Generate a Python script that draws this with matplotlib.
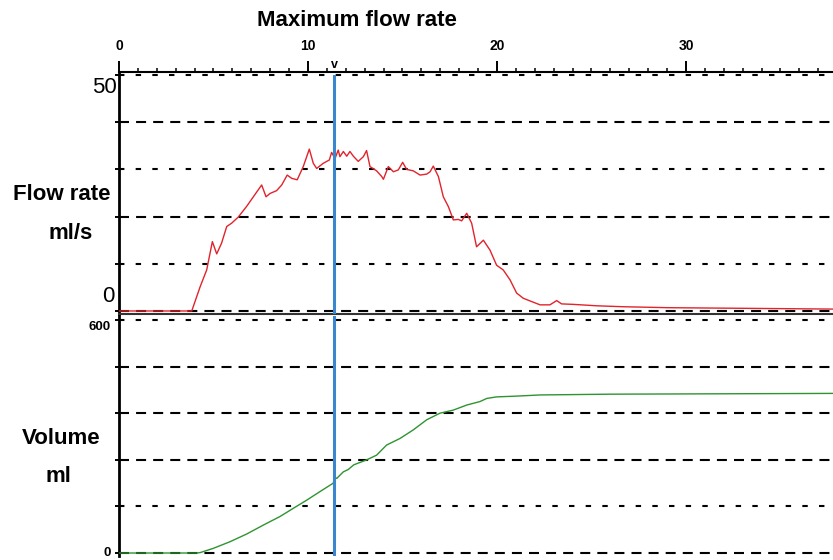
"""Uroflowmetry trace: flow rate and voided volume."""
import matplotlib.pyplot as plt
from matplotlib import ticker
import matplotlib.transforms as mtransforms

plt.rcParams['font.family'] = ['Liberation Sans', 'DejaVu Sans']

# Flow rate curve (ml/s) against time (s)
flow_t = [0, 3.85, 4.29, 4.64, 4.94, 5.17, 5.43, 5.70, 5.96, 6.31, 6.76, 7.11,
          7.55, 7.78, 7.99, 8.34, 8.61, 8.90, 9.14, 9.43, 9.75, 10.07, 10.28,
          10.46, 10.81, 11.13, 11.25, 11.43, 11.60, 11.69, 11.87, 12.05, 12.22,
          12.40, 12.66, 12.93, 13.10, 13.28, 13.63, 13.90, 13.99, 14.25, 14.52,
          14.78, 15.01, 15.22, 15.57, 15.93, 16.28, 16.46, 16.63, 16.90, 17.16,
          17.43, 17.69, 17.96, 18.13, 18.40, 18.66, 18.92, 19.28, 19.63, 19.98,
          20.33, 20.69, 21.04, 21.39, 21.83, 22.28, 22.80, 23.16, 23.42, 24.04,
          25.27, 26.68, 29.0, 32.0, 35.0, 37.8]
flow_v = [0, 0, 5.1, 8.7, 14.7, 12.1, 14.4, 17.9, 18.6, 19.9, 22.2, 24.2,
          26.7, 24.2, 24.9, 25.5, 26.7, 28.8, 28.1, 27.8, 30.6, 34.3, 31.3,
          30.2, 31.3, 32.0, 33.6, 32.3, 34.1, 32.7, 33.8, 32.8, 33.8,
          32.8, 31.7, 32.7, 34.0, 30.6, 29.7, 28.5, 27.9, 30.6, 29.5,
          29.9, 31.5, 30.0, 29.7, 28.8, 29.0, 29.5, 30.7, 28.5, 24.2,
          22.1, 19.3, 19.4, 19.1, 20.7, 18.6, 13.6, 15.0, 12.9, 9.7,
          8.7, 6.6, 3.8, 2.7, 2.0, 1.3, 1.3, 2.2, 1.5, 1.4,
          1.1, 0.9, 0.7, 0.6, 0.5, 0.4]

# Voided volume curve (ml) against time (s)
vol_t = [0, 4.10, 4.29, 4.99, 5.87, 6.76, 7.64, 8.52, 9.22, 9.93, 10.63, 11.34,
         11.40, 11.52, 11.87, 12.13, 12.42, 13.11, 13.63, 14.16, 14.87, 15.57,
         16.28, 16.98, 17.69, 18.40, 19.10, 19.46, 19.98, 21.04, 22.28, 26.0,
         32.0, 37.8]
vol_v = [0, 0, 1, 12, 29, 49, 72, 94, 115, 136, 158, 180,
         196, 192, 209, 215, 227, 240, 252, 278, 295, 317,
         343, 360, 368, 381, 390, 398, 402, 404, 407, 409,
         410, 411]

time_ticks = [0, 10, 20, 30]
flow_grid = [0, 10, 20, 30, 40, 50]
vol_grid = [0, 120, 240, 360, 480, 600]
t_qmax = 11.4

X_MAX = 37.78
LONG = (0, (4.8, 3.4))
SHORT = (0, (2.6, 5.4))

fig = plt.figure(figsize=(8.33, 5.6), dpi=100)
ax1 = fig.add_axes([119 / 833, 1 - 314 / 560, 714 / 833, 242 / 560])
ax2 = fig.add_axes([119 / 833, 4 / 560, 714 / 833, 240 / 560])

# top panel: flow
ax1.set_xlim(0, X_MAX)
ax1.set_ylim(-0.64, 50.64)
for y, ls in zip(flow_grid, [LONG, SHORT, LONG, SHORT, LONG, SHORT]):
    ax1.axhline(y, color='black', lw=1.5, ls=ls, zorder=1)
ax1.plot(flow_t, flow_v, color='#e2232c', lw=1.0, zorder=3)
ax1.axvline(t_qmax, ymax=0.985, color='#3b87cf', lw=2.2, zorder=4)

ax1.xaxis.set_ticks_position('top')
ax1.xaxis.set_label_position('top')
ax1.set_xticks(time_ticks)
ax1.xaxis.set_minor_locator(ticker.MultipleLocator(1))
ax1.tick_params(axis='x', which='major', length=8, width=1.4, pad=6,
                labelsize=10)
ax1.tick_params(axis='x', which='minor', length=3, width=1.1)
for lbl in ax1.get_xticklabels():
    lbl.set_fontweight('bold')
ax1.set_yticks(flow_grid)
ax1.set_yticklabels([])
ax1.tick_params(axis='y', direction='inout', length=6, width=1.4)

ax1.spines['right'].set_visible(False)
ax1.spines['top'].set_linewidth(1.5)
ax1.spines['left'].set_linewidth(2)
ax1.spines['bottom'].set_linewidth(1.5)
ax1.spines['bottom'].set_color('#333333')

trans1 = mtransforms.blended_transform_factory(ax1.transAxes, ax1.transData)
ax1.text(-0.003, 49.5, '50', transform=trans1, ha='right', va='top',
         fontsize=16)
ax1.text(-0.006, 0.8, '0', transform=trans1, ha='right', va='bottom',
         fontsize=16)
ax1.text(t_qmax, 1.003, 'v', transform=ax1.get_xaxis_transform(),
         ha='center', va='bottom', fontsize=9, fontweight='bold')

# bottom panel: volume
ax2.set_xlim(0, X_MAX)
ax2.set_ylim(-7.7, 610.3)
for y, ls in zip(vol_grid, [LONG, SHORT, LONG, LONG, LONG, SHORT]):
    ax2.axhline(y, color='black', lw=1.5, ls=ls, zorder=1)
ax2.plot(vol_t, vol_v, color='#2e9430', lw=1.0, zorder=3)
ax2.axvline(t_qmax, color='#3b87cf', lw=2.2, zorder=4)

ax2.set_xticks([])
ax2.set_yticks(vol_grid)
ax2.set_yticklabels([])
ax2.tick_params(axis='y', direction='inout', length=6, width=1.4)
for side in ['right', 'top', 'bottom']:
    ax2.spines[side].set_visible(False)
ax2.spines['left'].set_linewidth(2)

trans2 = mtransforms.blended_transform_factory(ax2.transAxes, ax2.transData)
ax2.text(-0.012, 597, '600', transform=trans2, ha='right', va='top',
         fontsize=9.5, fontweight='bold')
ax2.text(-0.012, 0, '0', transform=trans2, ha='right', va='center',
         fontsize=9.5, fontweight='bold')

# labels
fig.text(357 / 833, 1 - 20 / 560, 'Maximum flow rate', ha='center',
         va='center', fontsize=16, fontweight='bold')
fig.text(62 / 833, 1 - 195 / 560, 'Flow rate', ha='center', va='center',
         fontsize=16, fontweight='bold')
fig.text(71 / 833, 1 - 233 / 560, 'ml/s', ha='center', va='center',
         fontsize=16, fontweight='bold')
fig.text(61 / 833, 1 - 438 / 560, 'Volume', ha='center', va='center',
         fontsize=16, fontweight='bold')
fig.text(58 / 833, 1 - 476 / 560, 'ml', ha='center', va='center',
         fontsize=16, fontweight='bold')

fig.savefig('out.png', dpi=100)
plt.close(fig)
